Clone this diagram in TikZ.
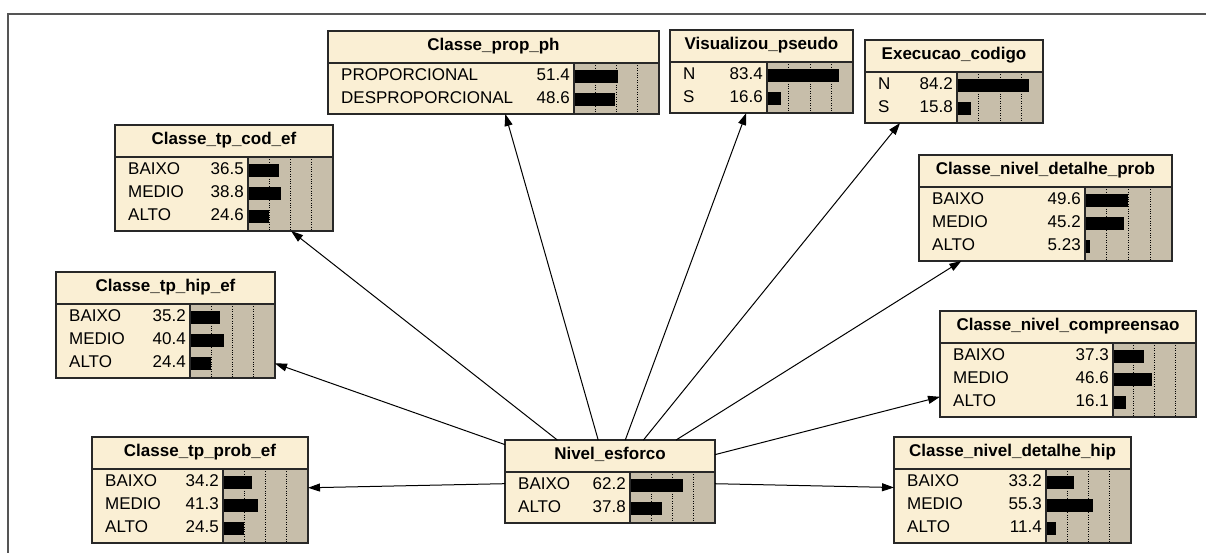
\documentclass[tikz,border=0pt]{standalone}
\usepackage{fontspec}
\setmainfont{Liberation Sans}
\usetikzlibrary{arrows.meta}

\definecolor{bncream}{RGB}{250,239,212}
\definecolor{bntan}{RGB}{199,190,170}
\definecolor{bnline}{RGB}{40,40,40}
\definecolor{bnframecol}{RGB}{85,85,85}

\tikzset{
  bnbox/.style={draw=bnline, line width=1.2pt, inner sep=0pt, outer sep=0pt, anchor=north west},
  bnsep/.style={draw=bnline, line width=1.2pt},
  bndot/.style={draw=black, line width=0.8pt, dash pattern=on 1pt off 1.4pt},
  bntitle/.style={font=\fontsize{17}{19}\selectfont\bfseries, inner sep=0pt, text height=0.716em, text depth=0pt},
  bntext/.style={font=\fontsize{17}{19}\selectfont, inner sep=0pt, text height=0.716em, text depth=0pt},
  bnedge/.style={draw=black, line width=1pt, -{Triangle[length=12pt,width=8pt]}},
}

% #1 name, #2 left, #3 top, #4 width, #5 label-area width, #6 rows, #7 title, #8 state/value list
\newcommand\bnnode[8]{%
  \pgfmathsetmacro\bnH{37+23*#6}%
  \fill[bncream] (#2,#3) rectangle ++(#4,\bnH);
  \fill[bntan] ({#2+#5},{#3+32}) rectangle ({#2+#4},{#3+\bnH});
  \foreach \q in {0.25,0.5,0.75}
    \draw[bndot] ({#2+#5+\q*(#4-#5)},{#3+32}) -- ++(0,{\bnH-32});
  \node[bntitle] (#1-title) at ({#2+#4/2},{#3+16}) {#7};
  \foreach \s/\v [count=\i from 0] in {#8} {
    \node[bntext, anchor=west] (#1-s\i) at ({#2+13},{#3+45.5+23*\i}) {\s};
    \node[bntext, anchor=east] (#1-v\i) at ({#2+#5-4},{#3+45.5+23*\i}) {\v};
    \fill[black] ({#2+#5},{#3+45.5+23*\i-6.5}) rectangle ++({\v/100*(#4-#5)},13);
  }
  \draw[bnsep] (#2,{#3+32}) -- ++(#4,0);
  \draw[bnsep] ({#2+#5},{#3+32}) -- ++(0,{\bnH-32});
  \node[bnbox, minimum width=#4pt, minimum height=\bnH pt] (#1) at (#2,#3) {};
}

\begin{document}
\begin{tikzpicture}[x=1pt,y=-1pt]
  \useasboundingbox (0,0) rectangle (1206,552);
  \fill[white] (0,0) rectangle (1206,552);
  % window frame
  \draw[bnframecol, line width=2pt] (8,560) -- (8,14) -- (1215,14);

  \bnnode{prop}{328}{31}{331}{246}{2}{Classe\_prop\_ph}{PROPORCIONAL/51.4, DESPROPORCIONAL/48.6}
  \bnnode{vis}{670}{30}{183}{97}{2}{Visualizou\_pseudo}{N/83.4, S/16.6}
  \bnnode{exec}{865}{40}{178}{92}{2}{Execucao\_codigo}{N/84.2, S/15.8}
  \bnnode{tpcod}{115}{125}{218}{133}{3}{Classe\_tp\_cod\_ef}{BAIXO/36.5, MEDIO/38.8, ALTO/24.6}
  \bnnode{detprob}{919}{155}{253}{166}{3}{Classe\_nivel\_detalhe\_prob}{BAIXO/49.6, MEDIO/45.2, ALTO/5.23}
  \bnnode{tphip}{56}{272}{219}{134}{3}{Classe\_tp\_hip\_ef}{BAIXO/35.2, MEDIO/40.4, ALTO/24.4}
  \bnnode{compr}{940}{311}{256}{173}{3}{Classe\_nivel\_compreensao}{BAIXO/37.3, MEDIO/46.6, ALTO/16.1}
  \bnnode{tpprob}{92}{437}{216}{131}{3}{Classe\_tp\_prob\_ef}{BAIXO/34.2, MEDIO/41.3, ALTO/24.5}
  \bnnode{nivel}{505}{440}{210}{125}{2}{Nivel\_esforco}{BAIXO/62.2, ALTO/37.8}
  \bnnode{dethip}{894}{437}{237}{152}{3}{Classe\_nivel\_detalhe\_hip}{BAIXO/33.2, MEDIO/55.3, ALTO/11.4}

  % arcs from the parent node to each child
  \foreach \c in {prop,vis,tpcod,detprob,tphip,compr,tpprob,dethip}
    \draw[bnedge] (nivel) -- (\c);
  \coordinate (exec-in) at ([xshift=-54pt]exec.south);
  \draw[bnedge] (nivel) -- (exec-in);
\end{tikzpicture}
\end{document}
